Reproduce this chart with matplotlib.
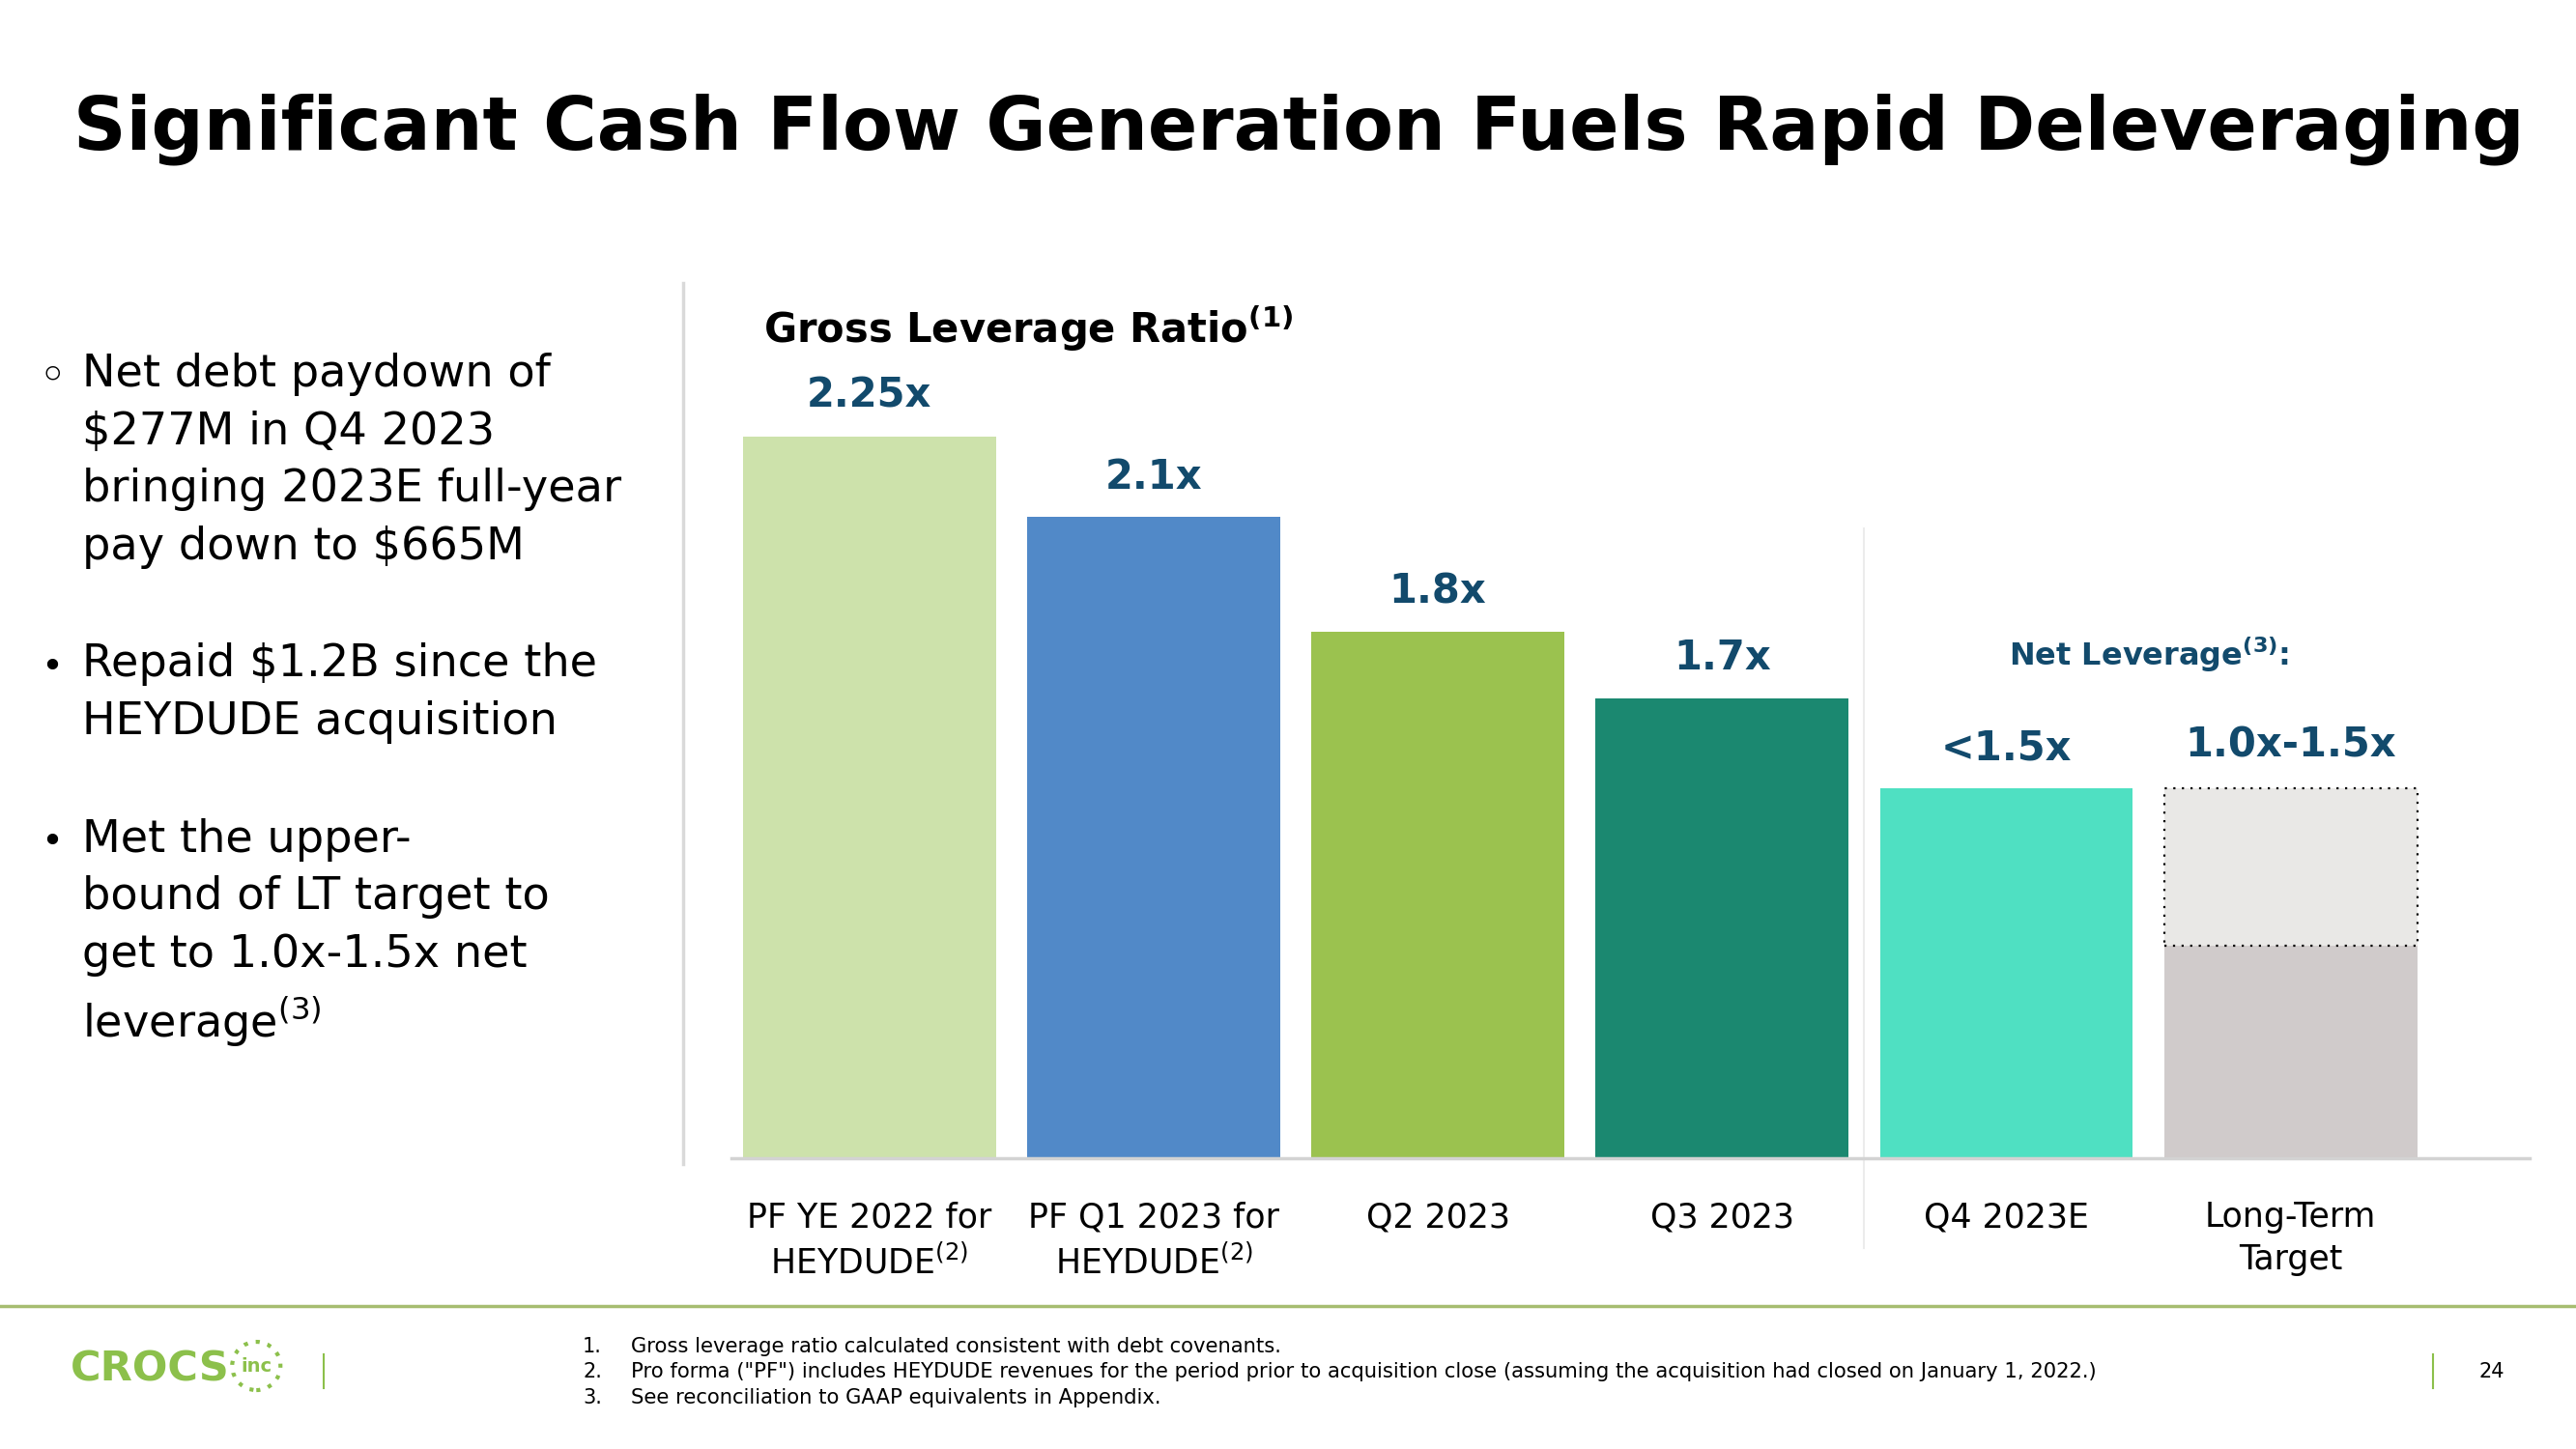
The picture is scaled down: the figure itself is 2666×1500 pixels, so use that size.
import matplotlib
matplotlib.use("Agg")
from matplotlib import pyplot as plt
from matplotlib.lines import Line2D
from matplotlib.patches import Ellipse

plt.rcParams['font.family'] = ['DejaVu Sans']
plt.rcParams['mathtext.default'] = 'regular'

# data
categories = ["PF YE 2022 for\nHEYDUDE$^{(2)}$", "PF Q1 2023 for\nHEYDUDE$^{(2)}$",
              "Q2 2023", "Q3 2023", "Q4 2023E", "Long-Term\nTarget"]
gross_values = [2.25, 2.08, 1.84, 1.70, 1.51]
gross_labels = ["2.25x", "2.1x", "1.8x", "1.7x", "<1.5x"]
target_low = 1.18
target_high = 1.51
target_label = "1.0x-1.5x"
bar_colors = ["#cde2ab", "#5189c8", "#9bc24f", "#1b8870", "#4fe0c2"]

bullets = [
    ("\u25e6", "Net debt paydown of\n\\$277M in Q4 2023\nbringing 2023E full-year\npay down to \\$665M"),
    ("\u2022", "Repaid \\$1.2B since the\nHEYDUDE acquisition"),
    ("\u2022", "Met the upper-\nbound of LT target to\nget to 1.0x-1.5x net\nleverage$^{(3)}$"),
]
footnotes = [
    "Gross leverage ratio calculated consistent with debt covenants.",
    'Pro forma ("PF") includes HEYDUDE revenues for the period prior to acquisition close '
    '(assuming the acquisition had closed on January 1, 2022.)',
    "See reconciliation to GAAP equivalents in Appendix.",
]

navy = "#124a6c"
green = "#8cc04b"

fig = plt.figure(figsize=(26.66, 15), dpi=100)

fig.text(0.0285, 0.911, "Significant Cash Flow Generation Fuels Rapid Deleveraging",
         fontsize=54.5, fontweight='bold', color='black', ha='left', va='center')

# left bullets
bullet_tops = [0.7566, 0.5566, 0.4356]
for (mark, body), top in zip(bullets, bullet_tops):
    fig.text(0.0203, top - 0.017, mark, fontsize=36 if mark == "\u25e6" else 28,
             ha='center', va='center', color='black')
    fig.text(0.0319, top, body, fontsize=33.3, ha='left', va='top',
             linespacing=1.42, color='black')

fig.add_artist(Line2D([0.2652, 0.2652], [0.197, 0.805], color="#d9d9d9", lw=2.5))

fig.text(0.2963, 0.7733, r"Gross Leverage Ratio$^{\mathbf{(1)}}$", fontsize=30,
         fontweight='bold', ha='left', va='center', color='black')

ax = fig.add_axes([0.2839, 0.2007, 0.698, 0.6133])
x = list(range(len(categories)))

ax.bar(x[:5], gross_values, width=0.89, color=bar_colors, zorder=2)
ax.bar(x[5], target_low, width=0.89, color="#d0cbcb", zorder=2)
ax.bar(x[5], target_high - target_low, bottom=target_low, width=0.89,
       color="#e9e8e6", edgecolor="black", linestyle=(0, (1, 3)), linewidth=1.6, zorder=2)

for xi, v, lab in zip(x[:5], gross_values, gross_labels):
    ax.annotate(lab, (xi, v), xytext=(0, 30), textcoords='offset points',
                ha='center', va='center', fontsize=30, fontweight='bold', color=navy)
ax.annotate(target_label, (x[5], target_high), xytext=(0, 32), textcoords='offset points',
            ha='center', va='center', fontsize=30, fontweight='bold', color=navy)

ax.text(4.5, 0.566, r"Net Leverage$^{\mathbf{(3)}}$:", transform=ax.get_xaxis_transform(),
        ha='center', va='center', fontsize=23, fontweight='bold', color=navy)

ax.axvline(3.5, ymin=-0.101, ymax=0.709, color="#ececec", lw=1.5, clip_on=False)

ax.set_xlim(-0.486, 5.84)
ax.set_ylim(0.734, 2.6)
ax.set_xticks(x, categories, fontsize=25, linespacing=1.35)
ax.tick_params(axis='x', length=0, pad=32)
ax.set_yticks([])
for side in ['top', 'left', 'right']:
    ax.spines[side].set_visible(False)
ax.spines['bottom'].set_color("#d3d3d3")
ax.spines['bottom'].set_linewidth(2.5)

# footer
fig.add_artist(Line2D([0, 1], [0.0987, 0.0987], color="#a6bd70", lw=2.5))
fig.text(0.0274, 0.0547, "CROCS", fontsize=31, fontweight='bold', color=green,
         ha='left', va='center')
fig.text(0.0995, 0.0573, "inc", fontsize=14, fontweight='bold', color=green,
         ha='center', va='center')
fig.add_artist(Ellipse((0.0995, 0.0573), 50 / 2666, 50 / 1500, fill=False,
                       edgecolor=green, lw=3, linestyle=(0, (1, 2))))
fig.add_artist(Line2D([0.1257, 0.1257], [0.042, 0.0653], color=green, lw=1.5))

for i, (note, yy) in enumerate(zip(footnotes, [0.0707, 0.0533, 0.0353])):
    fig.text(0.2262, yy, f"{i + 1}.", fontsize=15, ha='left', va='center')
    fig.text(0.2449, yy, note, fontsize=15.2, ha='left', va='center')

fig.add_artist(Line2D([0.9445, 0.9445], [0.042, 0.0653], color=green, lw=1.5))
fig.text(0.9674, 0.0533, "24", fontsize=15, ha='center', va='center')

fig.savefig("out.png", dpi=100)
